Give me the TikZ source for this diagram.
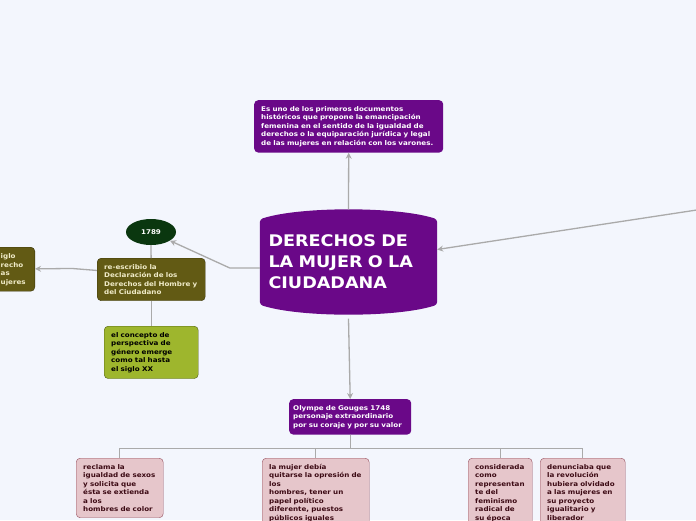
\documentclass[tikz,border=0pt]{standalone}
\usepackage{fontspec}
\setmainfont{DejaVu Sans}[FakeStretch=1.1]
\usetikzlibrary{arrows.meta, positioning, backgrounds, shapes.geometric}
\hyphenpenalty=10000

\definecolor{bgblue}{RGB}{243,246,253}
\definecolor{mmpurple}{RGB}{106,8,136}
\definecolor{mmgreen}{RGB}{10,55,15}
\definecolor{mmolive}{RGB}{98,90,20}
\definecolor{mmoliveline}{RGB}{60,55,10}
\definecolor{mmcream}{RGB}{240,235,200}
\definecolor{mmlime}{RGB}{158,182,45}
\definecolor{mmlimeline}{RGB}{80,95,20}
\definecolor{mmpink}{RGB}{230,198,203}
\definecolor{mmpinkline}{RGB}{150,80,95}
\definecolor{mmpinktext}{RGB}{60,10,20}
\definecolor{mmline}{RGB}{170,170,170}

\begin{document}
\begin{tikzpicture}[x=1pt, y=-1pt, >=Stealth,
      blk/.style={rounded corners=4pt, anchor=north west, align=left,
                  inner xsep=7pt, inner ysep=6pt,
                  font=\fontsize{6.5}{8.5}\selectfont\bfseries},
      purplebox/.style={blk, fill=mmpurple, text=white},
      olivebox/.style={blk, fill=mmolive, draw=mmoliveline, text=mmcream},
      limebox/.style={blk, fill=mmlime, draw=mmlimeline, text=black},
      pinkbox/.style={blk, fill=mmpink, draw=mmpinkline, text=mmpinktext},
      conn/.style={draw=mmline, line width=1.3pt},
      arr/.style={conn, -{Stealth[length=6pt, width=6pt]}}]

    \useasboundingbox (0,0) rectangle (696,520);

    % ============================
    % CENTRAL TOPIC
    % ============================
    \node[minimum width=177, minimum height=105, text width=160, align=left,
          inner xsep=8.5pt, text=white, font=\fontsize{16}{21}\selectfont\bfseries]
      (main) at (348.5,262) {DERECHOS DE\\LA MUJER O LA\\CIUDADANA};

    \begin{scope}[on background layer]
    \fill[bgblue] (0,0) rectangle (696,520);
    % barrel shape behind the title
    \fill[mmpurple, rounded corners=3pt]
      ([yshift=-10pt]main.north west)
        .. controls ([xshift=40pt,yshift=3pt]main.north west)
               and ([xshift=-40pt,yshift=3pt]main.north east)
        .. ([yshift=-10pt]main.north east)
      -- ([yshift=10pt]main.south east)
        .. controls ([xshift=-40pt,yshift=-3pt]main.south east)
               and ([xshift=40pt,yshift=-3pt]main.south west)
        .. ([yshift=10pt]main.south west)
      -- cycle;
    \end{scope}

    % ============================
    % NODES
    % ============================
    \node[purplebox, text width=175] (desc) at (254,100)
      {Es uno de los primeros documentos\\
       históricos que propone la emancipación\\
       femenina en el sentido de la igualdad de\\
       derechos o la equiparación jurídica y legal\\
       de las mujeres en relación con los varones.};

    \node[ellipse, fill=mmgreen, text=white, minimum width=50, minimum height=26,
          inner sep=0pt, font=\fontsize{6.5}{8.5}\selectfont\bfseries]
      (yr) at (151,232) {1789};

    \node[olivebox, text width=94] (rew) at (97,258)
      {re-escribio la\\Declaración de los\\Derechos del Hombre y\\del Ciudadano};

    % left box, cut by the page edge
    \node[olivebox, anchor=north east, minimum width=60, minimum height=44] (siglo) at (35,247) {};
    \node[anchor=west, align=left, inner sep=0pt, text=mmcream,
          font=\fontsize{6.5}{8.5}\selectfont\bfseries]
      (siglotxt) at (0.5,269.5) {iglo\\recho\\as\\ujeres};

    \node[limebox, text width=80] (gen) at (104,326)
      {el concepto de\\perspectiva de\\género emerge\\como tal hasta\\el siglo XX};

    \node[purplebox, text width=114, inner xsep=4pt] (olympe) at (289,399)
      {Olympe de Gouges 1748\\personaje extraordinario\\por su coraje y por su valor};

    % children of Olympe
    \node[pinkbox, text width=73] (ba) at (76,458)
      {reclama la\\igualdad de sexos\\y solicita que\\ésta se extienda\\a los\\hombres de color};
    \node[pinkbox, text width=93] (bb) at (262,458)
      {la mujer debía\\quitarse la opresión de\\los\\hombres, tener un\\papel político\\diferente, puestos\\públicos iguales};
    \node[pinkbox, text width=50] (bc) at (468,458)
      {considerada\\como\\representan\\te del\\feminismo\\radical de\\su época};
    \node[pinkbox, text width=71] (bd) at (540,458)
      {denunciaba que\\la revolución\\hubiera olvidado\\a las mujeres en\\su proyecto\\igualitario y\\liberador};

    \coordinate (offright) at (700,209.5);

    % ============================
    % CONNECTORS
    % ============================
    \draw[arr] (main.north) -- (desc.south);
    \draw[arr] ([yshift=-4pt]main.south) -- (olympe.north);
    \draw[arr] (offright) -- ([yshift=12.5pt]main.east);
    \draw[arr] ([yshift=-6pt]main.west) -- ++(-30,0) -- (yr);
    \draw[conn] (yr) -- (rew);
    \draw[arr] ([yshift=9pt]rew.west) -- ++(-25,-2) -- (siglo);
    \draw[conn] (rew) -- (gen);

    \foreach \kid in {ba,bb,bc,bd} {
      \draw[conn] (olympe.south) -- ++(0,14) -| (\kid.north);
    }

\end{tikzpicture}
\end{document}
